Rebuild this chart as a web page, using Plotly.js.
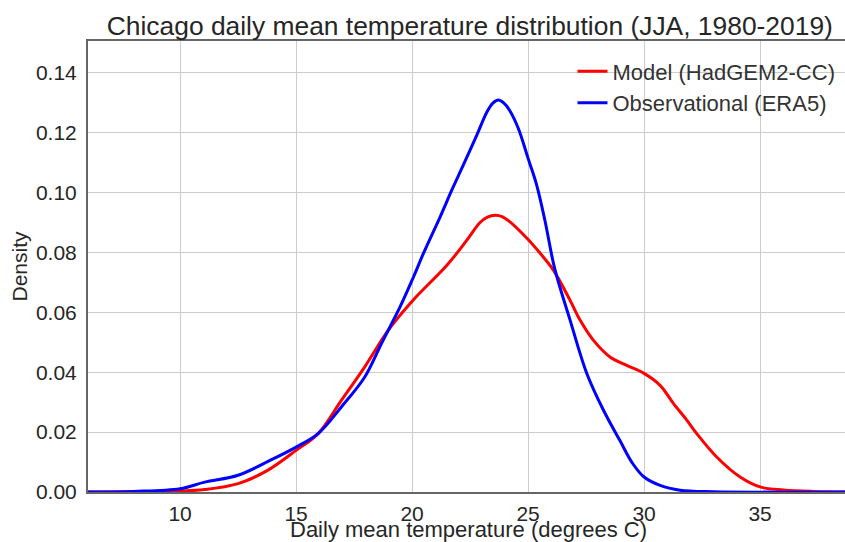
<!DOCTYPE html>
<html>
<head>
<meta charset="utf-8">
<script src="https://cdn.plot.ly/plotly-3.0.1.min.js"></script>
<style>html,body{margin:0;padding:0;background:#fff;}#chart{width:845px;height:542px;}</style>
</head>
<body>
<div id="chart"></div>
<script>
// Model (HadGEM2-CC) density curve
var modelX = [6.0, 8.0, 10.0, 11.06, 12.5, 13.79, 15.0, 15.95, 16.95, 17.96, 18.97, 20.06, 21.5, 22.36, 22.93, 23.25, 23.58, 23.9, 24.22, 24.94, 25.52, 26.09, 26.81, 27.24, 27.81, 28.53, 29.25, 30.0, 30.69, 31.27, 31.84, 32.27, 33.13, 34.14, 35.0, 36.0, 37.3, 38.7];
var modelY = [0, 0.0001, 0.0003, 0.0008, 0.0028, 0.0073, 0.0139, 0.0195, 0.0306, 0.0418, 0.054, 0.0642, 0.0757, 0.0841, 0.0900, 0.0918, 0.0924, 0.0919, 0.0902, 0.0848, 0.0797, 0.0741, 0.064, 0.0574, 0.0507, 0.0451, 0.0423, 0.0396, 0.0356, 0.0295, 0.024, 0.0195, 0.0117, 0.005, 0.0017, 0.0007, 0.0002, 0];
// Observational (ERA5) density curve
var obsX = [6.0, 8.0, 10.0, 11.06, 12.5, 13.94, 15.0, 15.95, 16.95, 17.96, 18.68, 19.48, 20.06, 20.49, 21.21, 21.71, 22.21, 22.79, 23.22, 23.47, 23.72, 23.97, 24.2, 24.58, 25.0, 25.37, 25.73, 26.15, 26.81, 27.53, 28.25, 28.97, 29.5, 30.0, 30.69, 31.55, 33.0, 38.7];
var obsY = [0, 0.0002, 0.0011, 0.0033, 0.0056, 0.0108, 0.015, 0.0195, 0.0284, 0.0384, 0.0496, 0.0618, 0.0718, 0.0797, 0.0919, 0.1008, 0.1092, 0.1192, 0.1268, 0.1298, 0.1309, 0.1298, 0.1275, 0.1214, 0.1114, 0.1025, 0.0905, 0.0745, 0.0574, 0.0396, 0.0273, 0.0170, 0.0096, 0.005, 0.0022, 0.0006, 0.0001, 0];
var seriesNames = ["Model (HadGEM2-CC)", "Observational (ERA5)"];
var xTicks = [10, 15, 20, 25, 30, 35];
var yTicks = [0, 0.02, 0.04, 0.06, 0.08, 0.10, 0.12, 0.14];

var font = "Liberation Sans, Arial, sans-serif";
var traces = [
  {x: modelX, y: modelY, type: "scatter", mode: "lines", name: seriesNames[0],
   line: {color: "#ff0000", width: 3, shape: "spline", smoothing: 1}},
  {x: obsX, y: obsY, type: "scatter", mode: "lines", name: seriesNames[1],
   line: {color: "#0000ff", width: 3, shape: "spline", smoothing: 1}}
];
var layout = {
  width: 845, height: 542,
  margin: {l: 88, r: 0, t: 41, b: 50},
  paper_bgcolor: "#fff", plot_bgcolor: "#fff",
  font: {family: font, size: 21, color: "#262626"},
  title: {text: "Chicago daily mean temperature distribution (JJA, 1980-2019)",
          font: {family: font, size: 26.4, color: "#262626"},
          x: 0.556, xanchor: "center", y: 0.953, yanchor: "middle", yref: "container"},
  xaxis: {range: [6.03, 38.66], tickvals: xTicks, ticktext: xTicks.map(String),
          showgrid: true, gridcolor: "#cccccc", gridwidth: 1, zeroline: false,
          showline: true, linecolor: "#666", linewidth: 2, mirror: true,
          ticks: "outside", ticklen: 2, tickcolor: "rgba(0,0,0,0)", automargin: false},
  yaxis: {range: [0, 0.1506], tickvals: yTicks, ticktext: yTicks.map(function(v){return v.toFixed(2);}),
          showgrid: true, gridcolor: "#cccccc", gridwidth: 1, zeroline: false,
          showline: true, linecolor: "#666", linewidth: 2, mirror: false,
          ticks: "outside", ticklen: 5, tickcolor: "rgba(0,0,0,0)", automargin: false,
          title: {text: "Density", standoff: 3,
                  font: {family: font, size: 21, color: "#262626"}}},
  annotations: [{text: "Daily mean temperature (degrees C)", xref: "paper", yref: "paper",
                 x: 0.503, y: 0, xanchor: "center", yanchor: "middle", yshift: -37,
                 borderpad: 0, showarrow: false, font: {family: font, size: 22, color: "#262626"}}],
  legend: {x: 0.64, xanchor: "left", y: 0.979, yanchor: "top",
           bgcolor: "rgba(255,255,255,0)", borderwidth: 0,
           font: {family: font, size: 22, color: "#333"}, tracegroupgap: 0},
  showlegend: true
};
Plotly.newPlot("chart", traces, layout, {displayModeBar: false, staticPlot: true});
</script>
</body>
</html>
